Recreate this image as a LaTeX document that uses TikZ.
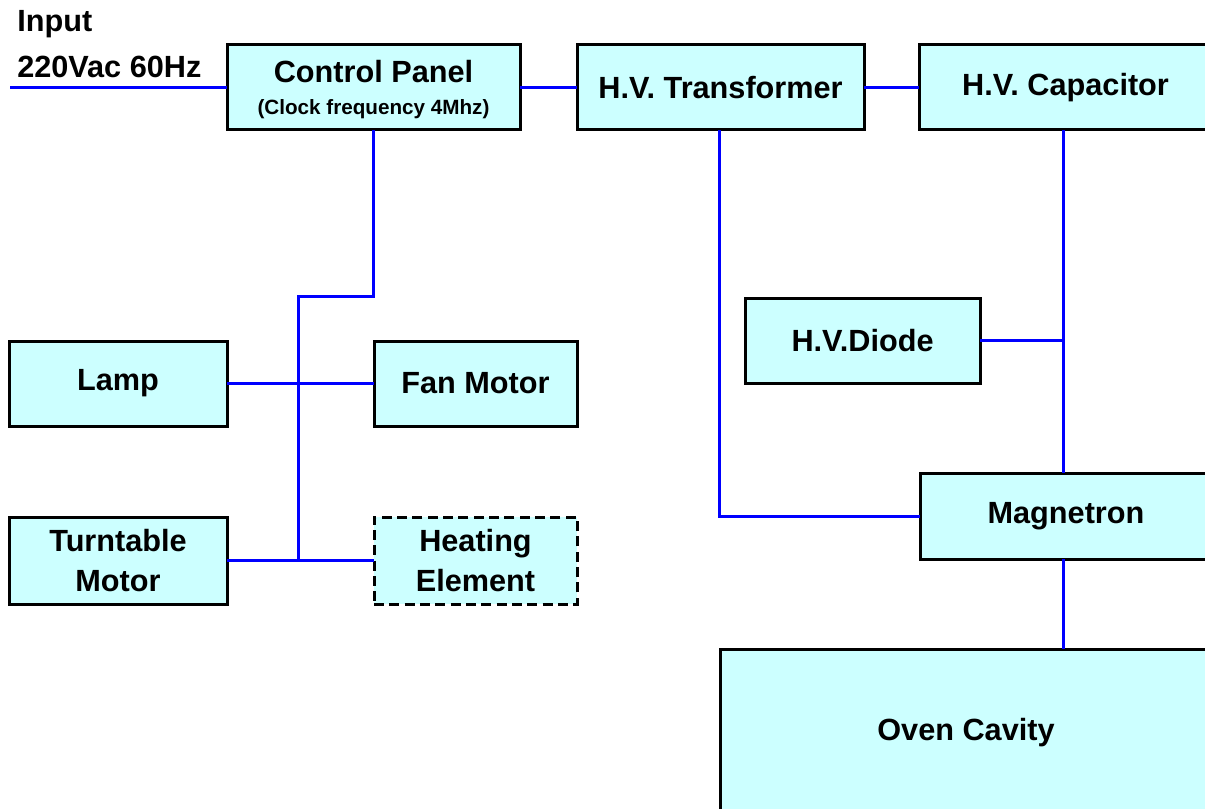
\documentclass[tikz,border=0pt]{standalone}
\usepackage{fontspec}
\setmainfont{Liberation Sans}
\begin{document}
\begin{tikzpicture}[x=0.75pt,y=-0.75pt,
  box/.style={draw=black, line width=2.25pt, fill=boxfill, inner sep=0pt, outer sep=0pt,
    font=\bfseries\fontsize{23}{30.5}\selectfont, align=center},
  sz/.style 2 args={minimum width=#1*0.75pt, minimum height=#2*0.75pt},
  dashedbox/.style={box, dash pattern=on 7.5pt off 4pt},
  txt/.style={inner sep=0pt, font=\bfseries\fontsize{23}{30.5}\selectfont},
  wire/.style={draw=wireblue, line width=2.25pt}]
\definecolor{boxfill}{HTML}{CCFFFF}
\definecolor{wireblue}{HTML}{0000FF}
\useasboundingbox (0,0) rectangle (1205,809);
\clip (0,0) rectangle (1205,809);
\fill[white] (0,0) rectangle (1205,809);

\coordinate (inp) at (10,88);
\coordinate (bustop) at (298,296);
\coordinate (busbot) at (298,561);
\coordinate (vbus) at (1063,300);
\coordinate (vtr) at (719,300);

\node[box, sz={293}{85}] (cp) at (373.5,87.5) {};
\node[box, sz={287}{85}] (tr) at (720.5,87.5) {H.V. Transformer};
\node[box, sz={293}{85}] (cap) at (1065.5,87.5) {H.V. Capacitor};
\node[box, sz={235}{85}] (diode) at (862.5,340.5) {H.V.Diode};
\node[box, sz={218}{85}] (lamp) at (118,383.5) {Lamp};
\node[box, sz={203}{85}] (fan) at (475.5,383.5) {Fan Motor};
\node[box, sz={218}{87}] (turn) at (118,560.5) {Turntable\\Motor};
\node[dashedbox, sz={203}{87}] (heat) at (475.5,560.5) {Heating\\Element};
\node[box, sz={292}{86}] (mag) at (1066,516) {Magnetron};
\node[box, sz={492}{167}] (oven) at (966,732.5) {Oven Cavity};

\node[txt] (cpt) at (373.5,72) {Control Panel};
\node[inner sep=0pt, font=\bfseries\fontsize{15.5}{18}\selectfont] (cps) at (373.5,109) {(Clock frequency 4Mhz)};

\node[txt, anchor=base west] (in1) at (17,32) {Input};
\node[txt, anchor=base west] (in2) at (17,78) {220Vac 60Hz};

\draw[wire] (inp) -- (inp -| cp.west);
\draw[wire] (cp.east) -- (tr.west);
\draw[wire] (tr.east) -- (cap.west);
\draw[wire] (cp.south) |- (bustop) -- (busbot);
\draw[wire] (lamp.east) -- (fan.west);
\draw[wire] (turn.east) -- (heat.west);
\draw[wire] (tr.south -| vtr) |- (mag.west);
\draw[wire] (cap.south -| vbus) -- (mag.north -| vbus);
\draw[wire] (diode.east) -- (diode.east -| vbus);
\draw[wire] (mag.south -| vbus) -- (oven.north -| vbus);
\end{tikzpicture}
\end{document}
